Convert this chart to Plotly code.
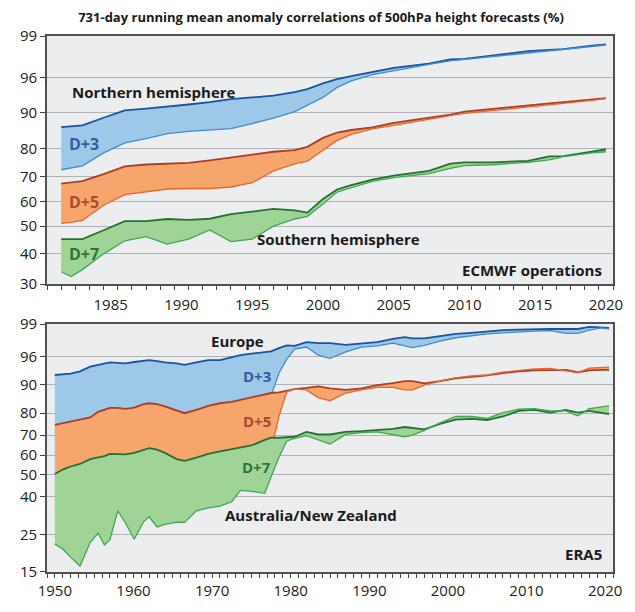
import numpy as np
import plotly.graph_objects as go

# ---- custom anomaly-correlation scale (value -> axis position) ----
AC_KNOTS = [15, 25, 30, 40, 50, 60, 70, 80, 90, 96, 99]
POS_KNOTS = [-319.9, -271.9, -253.3, -222.3, -194.0, -169.0, -143.3, -115.0, -78.3, -42.3, 0.0]


def pos(v):
    return np.interp(np.asarray(v, dtype=float), AC_KNOTS, POS_KNOTS)


top_ticks = [99, 96, 90, 80, 70, 60, 50, 40, 30]
bot_ticks = [99, 96, 90, 80, 70, 60, 50, 40, 25, 15]

# ---- ECMWF operations (years) ----
top_years = [1981.5, 1982.2, 1983, 1984.5, 1986, 1987.5, 1989, 1990.5, 1992, 1993.5, 1995, 1996.5,
             1998, 1998.9, 2000, 2001, 2002, 2003.5, 2005, 2007.5, 2009, 2010, 2012, 2014.5, 2016,
             2017, 2019, 2020]
nh_d3 = [86.0, 86.2, 86.5, 88.6, 90.4, 90.7, 91.0, 91.4, 91.8, 92.3, 92.6, 92.9, 93.5, 94.0, 95.0,
         95.7, 96.1, 96.4, 96.7, 97.0, 97.3, 97.35, 97.6, 97.9, 98.0, 98.05, 98.3, 98.4]
sh_d3 = [72.4, 73.0, 73.8, 78.5, 81.6, 82.8, 84.2, 84.8, 85.2, 85.6, 87.0, 88.5, 90.2, 91.3, 92.6,
         94.3, 95.4, 96.2, 96.5, 96.95, 97.2, 97.3, 97.5, 97.8, 97.95, 98.0, 98.2, 98.35]
nh_d5 = [67.1, 67.6, 68.1, 70.8, 73.6, 74.3, 74.7, 74.9, 75.8, 76.8, 78.0, 78.9, 79.5, 80.5, 83.0,
         84.5, 85.2, 85.9, 87.2, 88.6, 89.5, 90.2, 90.7, 91.2, 91.6, 91.8, 92.3, 92.5]
sh_d5 = [51.1, 51.5, 52.3, 58.5, 62.8, 64.0, 65.0, 65.2, 65.2, 65.8, 67.5, 72.0, 74.5, 75.5, 79.5,
         82.3, 84.0, 85.5, 86.5, 88.3, 89.2, 89.8, 90.4, 91.0, 91.4, 91.6, 92.1, 92.4]
nh_d7 = [45.3, 45.3, 45.3, 48.5, 52.0, 52.0, 52.9, 52.5, 53.0, 54.9, 56.1, 57.0, 56.4, 55.5, 61.0,
         64.8, 66.5, 68.7, 70.3, 72.0, 74.6, 75.1, 75.1, 75.6, 77.2, 77.3, 78.9, 79.8]
sh_d7 = [34.1, 32.5, 34.8, 40.0, 44.7, 46.2, 43.5, 45.3, 48.6, 44.4, 45.3, 50.0, 52.9, 54.0, 59.0,
         63.8, 65.5, 68.0, 69.5, 71.0, 72.9, 73.9, 74.2, 75.1, 76.0, 77.1, 78.5, 78.9]

# ---- ERA5 ----
bot_years = [1950, 1951, 1952, 1953.2, 1954.5, 1955.5, 1956.3, 1957, 1958, 1959, 1960.1, 1961.3,
             1962, 1963, 1964, 1965.5, 1966.5, 1968, 1969.5, 1971, 1972.5, 1973.6, 1975, 1976.7,
             1977.5, 1978.5, 1979.5, 1980.5, 1982, 1983.5, 1985, 1987, 1989, 1991, 1993, 1994.5,
             1995.5, 1997, 1999, 2001, 2003, 2005, 2007, 2009, 2011, 2013, 2015, 2016.5, 2018,
             2019.5, 2020.5]
eur_d3 = [92.1, 92.2, 92.4, 92.9, 93.9, 94.3, 94.6, 94.8, 94.7, 94.6, 94.9, 95.2, 95.3, 95.1, 94.8,
          94.6, 94.3, 94.8, 95.3, 95.3, 95.9, 96.15, 96.3, 96.45, 96.5, 96.8, 97.05, 97.0, 97.35,
          97.25, 97.25, 97.1, 97.2, 97.35, 97.65, 97.8, 97.7, 97.7, 97.9, 98.1, 98.2, 98.35, 98.45,
          98.5, 98.55, 98.55, 98.55, 98.55, 98.75, 98.7, 98.65]
anz_d3 = [50, 49, 48, 47, 50, 52, 50, 51, 56, 54, 51, 54, 56, 54, 55, 55, 54, 58, 59, 60, 62, 65,
          65, 66, 86.0, 92.5, 95.5, 96.7, 96.9, 96.15, 95.7, 96.45, 96.9, 97.0, 97.25, 97.05, 96.85,
          97.05, 97.45, 97.75, 97.95, 98.1, 98.2, 98.3, 98.35, 98.4, 98.15, 98.15, 98.45, 98.65,
          98.55]
eur_d5 = [74.7, 75.4, 76.2, 77.1, 78.1, 80.5, 81.2, 81.9, 81.9, 81.5, 82.0, 83.2, 83.5, 83.2, 82.4,
          80.8, 80.0, 81.2, 82.6, 83.5, 84.0, 84.7, 85.5, 86.4, 87.1, 87.3, 87.9, 88.5, 88.9, 89.4,
          88.7, 88.2, 88.7, 89.9, 90.35, 90.8, 90.8, 90.3, 90.8, 91.4, 91.7, 92.0, 92.5, 92.9, 93.1,
          93.2, 93.2, 92.7, 93.1, 93.2, 93.2]
anz_d5 = [35, 34, 33, 31, 36, 38, 36, 37, 45, 42, 37, 42, 44, 41, 42, 42, 41, 46, 47, 48, 50, 54,
          54, 53, 62, 78.6, 87.5, 88.5, 88.2, 85.5, 84.4, 87.1, 88.2, 89.1, 89.1, 88.2, 88.2, 89.9,
          90.8, 91.5, 91.9, 92.1, 92.7, 93.1, 93.4, 93.5, 92.9, 92.6, 93.6, 93.7, 93.8]
eur_d7 = [50.2, 52.5, 54.1, 55.4, 57.9, 58.7, 59.5, 60.6, 60.6, 60.3, 61.1, 62.7, 63.5, 62.7, 61.1,
          57.9, 57.0, 58.7, 60.6, 61.9, 63.1, 63.9, 64.8, 67.6, 68.7, 68.7, 68.9, 69.2, 71.5, 70.3,
          70.3, 71.5, 71.8, 72.2, 72.9, 73.7, 73.2, 72.6, 75.1, 77.1, 77.4, 76.9, 78.5, 80.8, 81.2,
          80.2, 81.2, 80.2, 80.8, 80.2, 79.6]
anz_d7 = [22.5, 21.2, 19.0, 16.6, 23.0, 25.6, 22.3, 23.7, 34.0, 29.0, 23.8, 29.6, 31.5, 27.75, 28.6,
          29.4, 29.3, 34.0, 35.25, 35.9, 37.75, 42.7, 42.3, 41.4, 48.9, 58.7, 67.1, 68.4, 69.7, 67.6,
          65.5, 70.3, 71.2, 71.5, 70.3, 69.2, 70.0, 72.2, 75.6, 78.5, 78.5, 77.6, 80.2, 81.4, 81.6,
          80.8, 80.8, 78.8, 81.6, 82.3, 82.6]

# ---- styles ----
BLUE_FILL, BLUE_UP, BLUE_LO = "rgb(158,200,232)", "rgb(28,82,160)", "rgb(62,140,212)"
ORNG_FILL, ORNG_UP, ORNG_LO = "rgb(246,166,108)", "rgb(172,62,38)", "rgb(236,102,42)"
GRN_FILL, GRN_UP, GRN_LO = "rgb(160,212,150)", "rgb(38,112,52)", "rgb(62,168,82)"
FONT = "Open Sans"

fig = go.Figure()


def band(xs, upper, lower, xa, ya, fillc, upc, loc):
    fig.add_trace(go.Scatter(x=xs, y=pos(upper), mode="lines", line=dict(color=upc, width=1.8),
                             xaxis=xa, yaxis=ya, showlegend=False, hoverinfo="skip"))
    fig.add_trace(go.Scatter(x=xs, y=pos(lower), mode="lines", line=dict(color=loc, width=1.3),
                             fill="tonexty", fillcolor=fillc, xaxis=xa, yaxis=ya,
                             showlegend=False, hoverinfo="skip"))


band(top_years, nh_d3, sh_d3, "x", "y", BLUE_FILL, BLUE_UP, BLUE_LO)
band(top_years, nh_d5, sh_d5, "x", "y", ORNG_FILL, ORNG_UP, ORNG_LO)
band(top_years, nh_d7, sh_d7, "x", "y", GRN_FILL, GRN_UP, GRN_LO)
band(bot_years, eur_d3, anz_d3, "x2", "y2", BLUE_FILL, BLUE_UP, BLUE_LO)
band(bot_years, eur_d5, anz_d5, "x2", "y2", ORNG_FILL, ORNG_UP, ORNG_LO)
band(bot_years, eur_d7, anz_d7, "x2", "y2", GRN_FILL, GRN_UP, GRN_LO)

# page has an 8px body margin: size the figure so the plot areas land where the reference has them
OFF = 8
W, H = 635 - OFF, 612 - OFF
ML, MR, MT, MB = 36 - OFF, 13, 36 - OFF, 29
PW, PH = W - ML - MR, H - MT - MB
PLOT_BOTTOM_PAGE = 612 - MB


def px(xp):  # page x -> paper
    return (xp - 36) / PW


def py(yp):  # page y -> paper
    return (PLOT_BOTTOM_PAGE - yp) / PH


axis_common = dict(showline=True, mirror=True, linecolor="#505050", linewidth=1.6,
                   tickcolor="#404040", tickfont=dict(family=FONT, size=15, color="#222"))

fig.update_layout(
    width=W, height=H,
    margin=dict(l=ML, r=MR, t=MT, b=MB),
    paper_bgcolor="white", plot_bgcolor="#ecedef",
    font=dict(family=FONT, color="#1a1a1a"),
    title=dict(text="<b>731-day running mean anomaly correlations of 500hPa height forecasts (%)</b>",
               x=(321 - OFF) / W, xanchor="center", y=1 - (17.5 - OFF) / H, yanchor="middle",
               font=dict(family=FONT, size=13, color="#1a1a1a")),
    xaxis=dict(domain=[0, 1], anchor="y", range=[1980.5, 2020.5],
               tickvals=list(range(1985, 2021, 5)), ticktext=[str(v) for v in range(1985, 2021, 5)],
               ticks="", showgrid=False, zeroline=False, ticklabelstandoff=6,
               minor=dict(tick0=1980.5, dtick=1, ticks="outside", ticklen=4, tickcolor="#404040",
                          showgrid=False),
               **axis_common),
    yaxis=dict(domain=[py(289.3), 1], anchor="x", range=[float(pos(30)), float(pos(99))],
               tickvals=[float(v) for v in pos(top_ticks)], ticktext=[str(v) for v in top_ticks],
               ticks="outside", ticklen=5, showgrid=True, gridcolor="#b2b2b4", gridwidth=1,
               zeroline=False, **axis_common),
    xaxis2=dict(domain=[0, 1], anchor="y2", range=[1949, 2021],
                tickvals=list(range(1950, 2021, 10)), ticktext=[str(v) for v in range(1950, 2021, 10)],
                ticks="outside", ticklen=4, showgrid=False, zeroline=False,
                minor=dict(tick0=1949, dtick=1, ticks="outside", ticklen=4, tickcolor="#404040",
                           showgrid=False),
                **axis_common),
    yaxis2=dict(domain=[0, py(330)], anchor="x2", range=[float(pos(15)), float(pos(99))],
                tickvals=[float(v) for v in pos(bot_ticks)], ticktext=[str(v) for v in bot_ticks],
                ticks="outside", ticklen=5, showgrid=True, gridcolor="#b2b2b4", gridwidth=1,
                zeroline=False, **axis_common),
)


def label(text, xp, yp, size=15, color="#1a1a1a", anchor="center"):
    fig.add_annotation(text="<b>" + text + "</b>", x=px(xp), y=py(yp), xref="paper", yref="paper",
                       xanchor=anchor, yanchor="middle", showarrow=False,
                       font=dict(family=FONT, size=size, color=color))


label("Northern hemisphere", 147, 93)
label("Southern hemisphere", 338, 243)
label("ECMWF operations", 613, 275, anchor="right")
label("D+3", 74.5, 146, size=16, color="rgb(48,94,158)")
label("D+5", 74.5, 205, size=16, color="rgb(168,74,46)")
label("D+7", 74.5, 258, size=16, color="rgb(44,118,56)")
label("Europe", 233, 347)
label("D+3", 253.5, 382.5, size=15, color="rgb(48,94,158)")
label("D+5", 253, 429, size=15, color="rgb(168,74,46)")
label("D+7", 253, 476, size=15, color="rgb(44,118,56)")
label("Australia/New Zealand", 309, 525)
label("ERA5", 613, 564.5, anchor="right")

fig.write_html("out.html")
